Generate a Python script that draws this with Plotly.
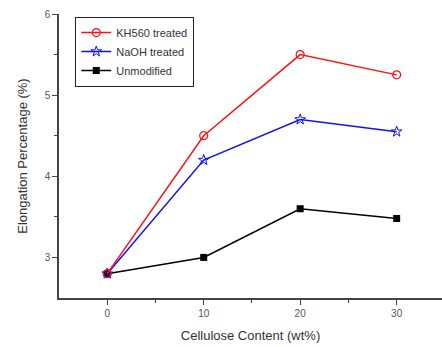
import plotly.graph_objects as go

x_vals = [0, 10, 20, 30]
kh560 = [2.8, 4.5, 5.5, 5.25]
naoh = [2.8, 4.2, 4.7, 4.55]
unmod = [2.8, 3.0, 3.6, 3.48]
names = ["KH560 treated", "NaOH treated", "Unmodified"]

fig = go.Figure()
fig.add_trace(go.Scatter(x=x_vals, y=unmod, name=names[2], mode="lines+markers",
                         line=dict(color="black", width=1.5),
                         marker=dict(symbol="square", size=7, color="black")))
fig.add_trace(go.Scatter(x=x_vals, y=naoh, name=names[1], mode="lines+markers",
                         line=dict(color="#1010ff", width=1.5),
                         marker=dict(symbol="star-open", size=8, color="#1010ff", line=dict(width=1))))
fig.add_trace(go.Scatter(x=x_vals, y=kh560, name=names[0], mode="lines+markers",
                         line=dict(color="#ff1010", width=1.5),
                         marker=dict(symbol="circle-open", size=8, color="#ff1010", line=dict(width=1.2))))

axis_font = dict(family="Liberation Sans, Arial", size=10, color="#555")
fig.update_layout(
    width=442, height=347,
    margin=dict(l=59, r=0, t=14, b=49),
    paper_bgcolor="white", plot_bgcolor="white",
    font=dict(family="Liberation Sans, Arial", color="#333"),
    legend=dict(x=0.042, y=0.99, xanchor="left", yanchor="top",
                traceorder="reversed", bordercolor="#222", borderwidth=1.2,
                bgcolor="white", font=dict(size=11, color="#333"),
                itemwidth=30, tracegroupgap=0),
    showlegend=True,
)
fig.update_xaxes(range=[-5, 34.7], tickvals=[0, 10, 20, 30], ticks="outside",
                 ticklen=5, tickwidth=1.2, tickcolor="#444", automargin=False,
                 showline=True, linecolor="#444", linewidth=1.5,
                 showgrid=False, zeroline=False, tickfont=axis_font,
                 minor=dict(tickvals=[5, 15, 25], ticks="outside", ticklen=3, tickcolor="#444"),
                 title=dict(text="Cellulose Content (wt%)", font=dict(size=13, color="#333"), standoff=13))
fig.update_yaxes(range=[2.5, 6], tickvals=[3, 4, 5, 6], ticks="outside",
                 ticklen=5, tickwidth=1.2, tickcolor="#444", automargin=False,
                 showline=True, linecolor="#444", linewidth=1.5,
                 showgrid=False, zeroline=False, tickfont=axis_font,
                 minor=dict(tickvals=[3.5, 4.5, 5.5], ticks="outside", ticklen=3, tickcolor="#444"),
                 title=dict(text="Elongation Percentage (%)", font=dict(size=13, color="#333"), standoff=14))

fig.write_html("out.html", config={"displayModeBar": False},
               post_script="document.body.style.margin='0';")
